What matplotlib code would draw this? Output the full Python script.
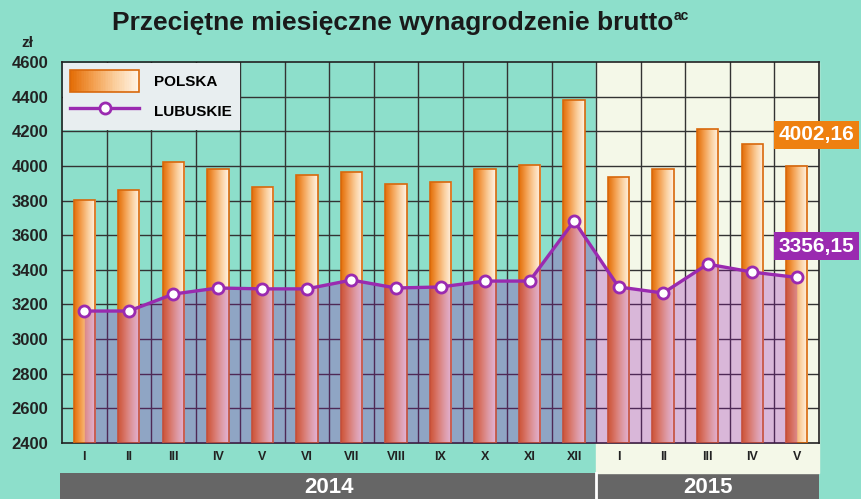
import numpy as np
import matplotlib
matplotlib.use('Agg')
import matplotlib.pyplot as plt
from matplotlib.patches import Rectangle
from matplotlib.lines import Line2D
from matplotlib.colors import LinearSegmentedColormap

plt.rcParams['font.family'] = ['Liberation Sans', 'DejaVu Sans']
plt.rcParams['font.weight'] = 'bold'

# dane
months = ['I', 'II', 'III', 'IV', 'V', 'VI', 'VII', 'VIII', 'IX', 'X', 'XI', 'XII',
          'I', 'II', 'III', 'IV', 'V']
years = ['2014', '2015']
polska = [3805, 3862, 4025, 3980, 3880, 3945, 3965, 3895, 3905, 3980, 4005, 4380,
          3935, 3985, 4215, 4125, 4002.16]
lubuskie = [3162, 3162, 3260, 3295, 3290, 3290, 3341, 3295, 3301, 3335, 3335, 3682,
            3301, 3266, 3433, 3387, 3356.15]

mint = '#8ddfcb'
cream = '#f4f8e8'
orange = '#ee8010'
purple = '#9a2ab0'
cmap = LinearSegmentedColormap.from_list('bar', ['#e46e08', '#f3a050', '#fbd0a0', '#fff4e6'])


class GradHandler:
    # prostokat z gradientem w legendzie
    def legend_artist(self, legend, orig_handle, fontsize, handlebox):
        x0, y0 = -handlebox.xdescent, -handlebox.ydescent
        w, h = handlebox.width, handlebox.height
        n = 40
        for i in range(n):
            handlebox.add_artist(Rectangle((x0 + w * i / n, y0), w / n + 0.3, h,
                                           fc=cmap(i / (n - 1)), ec='none'))
        edge = Rectangle((x0, y0), w, h, fc='none', ec='#d8680c', lw=1.2)
        handlebox.add_artist(edge)
        return edge


fig = plt.figure(figsize=(8.61, 4.99), dpi=100, facecolor=mint)

# pas z latami (pod wszystkim)
band = fig.add_axes([60/861, 0, 759/861, 26/499], zorder=-1)
band.set_xlim(0, 1)
band.set_ylim(0, 1)
band.axis('off')
band.add_patch(Rectangle((0, 0), 1, 1, fc='#666666', ec='none'))

ax = fig.add_axes([62/861, 56/499, 757/861, 381/499])
ax.set_facecolor(mint)

x = np.arange(len(months))
n14 = 12
ax.set_xlim(-0.5, len(months) - 0.5)
ax.set_ylim(2400, 4600)
ax.set_yticks(np.arange(2400, 4601, 200))
ax.set_xticks(x)
ax.set_xticklabels(months, fontsize=9, fontweight='bold', color='#222222')
ax.tick_params(axis='y', labelsize=12, length=0, pad=10, colors='#222222')
ax.tick_params(axis='x', length=0, pad=6)

# tlo 2015 (razem z pasem pod osia)
ax.axvspan(n14 - 0.5, len(months) - 0.5, ymin=-0.079, ymax=1, color=cream,
           zorder=0, clip_on=False)

# siatka
for xv in np.arange(0.5, len(months) - 1, 1.0):
    ax.axvline(xv, color='#333333', lw=1, zorder=1)
for yv in np.arange(2600, 4600, 200):
    ax.axhline(yv, color='#333333', lw=1, zorder=1)
for s in ax.spines.values():
    s.set_color('#222222')
    s.set_linewidth(1.2)

# slupki z gradientem
grad = np.linspace(0, 1, 64).reshape(1, -1)
bars = ax.bar(x, [v - 2400 for v in polska], width=0.48, bottom=2400,
              facecolor='none', edgecolor='#d8680c', linewidth=1.2, zorder=3)
for b in bars:
    x0, y0 = b.get_x(), b.get_y()
    im = ax.imshow(grad, extent=[x0, x0 + b.get_width(), y0, y0 + b.get_height()],
                   aspect='auto', cmap=cmap, zorder=2, interpolation='bilinear')
    im.set_clip_path(b)

# obszar pod linia
ax.fill_between(x, 2400, lubuskie, color='#9510b4', alpha=0.28, lw=0, zorder=4)
ax.plot(x, lubuskie, color=purple, lw=2.4, marker='o', ms=8, mfc='white',
        mec=purple, mew=2, zorder=5, clip_on=False)

# etykiety wartosci
fig.text(854/861, 1 - 135/499, '4002,16', color='white', fontsize=15,
         fontweight='bold', va='center', ha='right',
         bbox=dict(boxstyle='square,pad=0.22', fc=orange, ec='none'), zorder=6)
fig.text(854/861, 1 - 246/499, '3356,15', color='white', fontsize=15,
         fontweight='bold', va='center', ha='right',
         bbox=dict(boxstyle='square,pad=0.22', fc=purple, ec='none'), zorder=6)

# legenda
h1 = Rectangle((0, 0), 1, 1)
h2 = Line2D([], [], color=purple, lw=2.4, marker='o', ms=8, mfc='white', mec=purple, mew=2)
leg = ax.legend([h1, h2], ['POLSKA', 'LUBUSKIE'], loc='upper left', bbox_to_anchor=(0, 1),
                frameon=True, fancybox=False, fontsize=11, handlelength=4.5,
                handleheight=1.8, borderpad=0.5, labelspacing=0.55, handletextpad=1.0,
                borderaxespad=0.05, handler_map={Rectangle: GradHandler()})
leg.get_frame().set_facecolor('#e8eef0')
leg.get_frame().set_edgecolor('none')
leg.get_frame().set_alpha(1)
leg.set_zorder(7)

# tytul i jednostka
fig.text(112/861, 1 - 23/499, 'Przeciętne miesięczne wynagrodzenie brutto',
         ha='left', va='center', fontsize=19, fontweight='bold', color='#1a1a1a')
fig.text(674/861, 1 - 16/499, 'ac', ha='left', va='center', fontsize=10,
         fontweight='bold', color='#1a1a1a')
fig.text(27/861, 1 - 43/499, 'zł', ha='center', va='center', fontsize=11,
         fontweight='bold', color='#222222')

# lata
sep = ax.get_xaxis_transform()
ax.plot([n14 - 0.5, n14 - 0.5], [-0.079, -0.16], transform=sep, color='white',
        lw=2, clip_on=False, zorder=6)
ax.text((n14 - 1) / 2, -0.118, years[0], transform=sep, ha='center', va='center',
        color='white', fontsize=16, fontweight='bold', zorder=6)
ax.text((n14 + len(months) - 1) / 2, -0.118, years[1], transform=sep, ha='center',
        va='center', color='white', fontsize=16, fontweight='bold', zorder=6)

fig.savefig('out.png', dpi=100, facecolor=mint)
